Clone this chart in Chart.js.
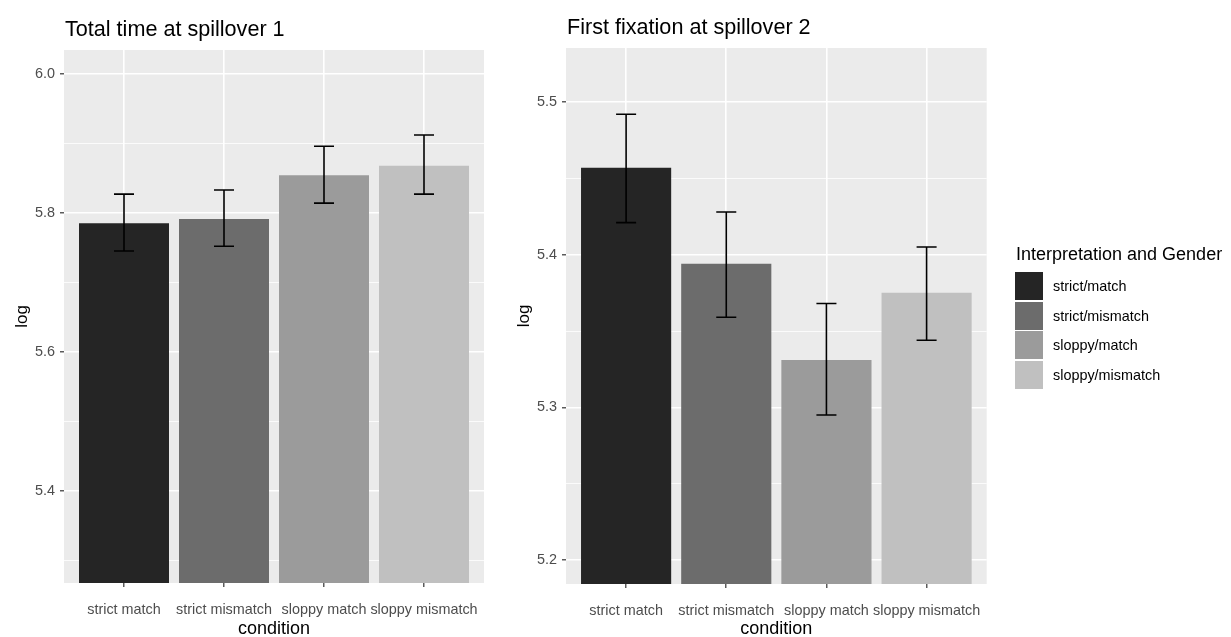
<!DOCTYPE html>
<html>
<head>
<meta charset="utf-8">
<script src="https://cdn.jsdelivr.net/npm/chart.js@4.4.1/dist/chart.umd.min.js"></script>
<style>
  body { margin: 0; background: #fff; font-family: "Liberation Sans", Arial, sans-serif; }
  #wrap { position: relative; width: 1231px; height: 637px; overflow: hidden; }
  canvas { position: absolute; top: 0; }
  #legend { position: absolute; left: 1015px; top: 0; width: 216px; height: 637px; }
  #legend .lt { position: absolute; left: 1px; top: 245px; font-size: 18px; line-height: 18px; white-space: nowrap; color: #000; }
  #legend .item { position: absolute; left: 0; height: 28px; white-space: nowrap; }
  #legend .key { position: absolute; left: 0; top: 0; width: 28px; height: 28px; }
  #legend .lab { position: absolute; left: 38px; top: 0; line-height: 28px; font-size: 14.4px; color: #000; }
</style>
</head>
<body>
<div id="wrap">
  <canvas id="totalTime" width="510" height="637" style="left:0"></canvas>
  <canvas id="firstFix" width="731" height="637" style="left:500px"></canvas>
  <div id="legend"></div>
</div>
<script>
// data
const conditions = ['strict match', 'strict mismatch', 'sloppy match', 'sloppy mismatch'];
const groupLabels = ['strict/match', 'strict/mismatch', 'sloppy/match', 'sloppy/mismatch'];
const barColors = ['#252525', '#6c6c6c', '#9b9b9b', '#c0c0c0'];

const totalTimeMeans = [5.785, 5.791, 5.854, 5.868];
const totalTimeLower = [5.745, 5.752, 5.814, 5.827];
const totalTimeUpper = [5.827, 5.833, 5.896, 5.912];
const totalTimeMajor = [5.4, 5.6, 5.8, 6.0];
const totalTimeMinor = [5.3, 5.5, 5.7, 5.9];

const firstFixMeans = [5.457, 5.394, 5.331, 5.375];
const firstFixLower = [5.421, 5.359, 5.295, 5.344];
const firstFixUpper = [5.492, 5.428, 5.368, 5.405];
const firstFixMajor = [5.2, 5.3, 5.4, 5.5];
const firstFixMinor = [5.25, 5.35, 5.45];

Chart.defaults.font.family = '"Liberation Sans", Arial, sans-serif';

// grey panel behind the grid
const panelBackground = {
    id: 'panelBackground',
    beforeDraw(chart) {
        const { ctx, chartArea: a } = chart;
        ctx.save();
        ctx.fillStyle = '#ebebeb';
        ctx.fillRect(a.left, a.top, a.right - a.left, a.bottom - a.top);
        ctx.restore();
    }
};

const panelTitle = {
    id: 'panelTitle',
    afterDraw(chart, args, opts) {
        const ctx = chart.ctx;
        ctx.save();
        ctx.font = '21.6px "Liberation Sans", Arial, sans-serif';
        ctx.fillStyle = '#000';
        ctx.textBaseline = 'alphabetic';
        ctx.fillText(opts.text, chart.chartArea.left + 1, opts.baseline);
        ctx.restore();
    }
};

const errorBars = {
    id: 'errorBars',
    afterDatasetsDraw(chart, args, opts) {
        const ctx = chart.ctx;
        const xs = chart.scales.x, ys = chart.scales.y;
        ctx.save();
        ctx.strokeStyle = '#000';
        ctx.lineWidth = 1.6;
        opts.lower.forEach((lo, i) => {
            const cx = xs.getPixelForValue(i + 1);
            const half = xs.getPixelForValue(i + 1.1) - cx;
            const y1 = ys.getPixelForValue(lo);
            const y2 = ys.getPixelForValue(opts.upper[i]);
            ctx.beginPath();
            ctx.moveTo(cx, y1); ctx.lineTo(cx, y2);
            ctx.moveTo(cx - half, y1); ctx.lineTo(cx + half, y1);
            ctx.moveTo(cx - half, y2); ctx.lineTo(cx + half, y2);
            ctx.stroke();
        });
        ctx.restore();
    }
};

function makePanel(id, p) {
    const isMajor = v => p.major.some(m => Math.abs(m - v) < 1e-9);
    return new Chart(document.getElementById(id), {
        type: 'bar',
        data: {
            datasets: [{
                data: p.means.map((v, i) => ({ x: i + 1, y: v })),
                backgroundColor: barColors,
                borderWidth: 0,
                categoryPercentage: 1,
                barPercentage: 0.9
            }]
        },
        options: {
            responsive: false,
            animation: false,
            layout: { padding: { top: p.top, left: 0, right: p.right, bottom: 0 } },
            plugins: {
                legend: { display: false },
                tooltip: { enabled: false },
                panelTitle: { text: p.title, baseline: p.titleBaseline },
                errorBars: { lower: p.lower, upper: p.upper }
            },
            scales: {
                x: {
                    type: 'linear',
                    min: 0.4,
                    max: 4.6,
                    offset: false,
                    afterBuildTicks: s => { s.ticks = conditions.map((c, i) => ({ value: i + 1 })); },
                    afterFit: s => { s.height = p.xHeight; },
                    border: { display: false },
                    grid: { offset: false, color: '#fff', lineWidth: 1.6, tickColor: '#333', tickLength: 4, tickWidth: 1.2 },
                    ticks: {
                        autoSkip: false, maxRotation: 0, padding: 14,
                        color: '#4d4d4d', font: { size: 14.4 },
                        callback: v => conditions[v - 1]
                    },
                    title: { display: true, text: 'condition', color: '#000', font: { size: 18, lineHeight: 0.9 }, padding: { top: 0, bottom: 0 } }
                },
                y: {
                    min: p.min,
                    max: p.max,
                    beginAtZero: false,
                    afterBuildTicks: s => { s.ticks = p.major.concat(p.minor).map(v => ({ value: v })); },
                    afterFit: s => { s.width = p.yWidth; },
                    border: { display: false },
                    grid: {
                        color: '#fff',
                        lineWidth: c => isMajor(c.tick.value) ? 1.6 : 0.8,
                        tickColor: c => isMajor(c.tick.value) ? '#333' : 'rgba(0,0,0,0)',
                        tickLength: 4,
                        tickWidth: 1.2
                    },
                    ticks: {
                        padding: 5, color: '#4d4d4d', font: { size: 14.4 },
                        callback: v => isMajor(v) ? v.toFixed(1) : ''
                    },
                    title: { display: true, text: 'log', color: '#000', font: { size: 17, lineHeight: 1 }, padding: { top: p.logPad, bottom: 0 } }
                }
            }
        },
        plugins: [panelBackground, panelTitle, errorBars]
    });
}

makePanel('totalTime', {
    title: 'Total time at spillover 1', titleBaseline: 36,
    means: totalTimeMeans, lower: totalTimeLower, upper: totalTimeUpper,
    major: totalTimeMajor, minor: totalTimeMinor,
    min: 5.267, max: 6.0345,
    top: 50, right: 26, xHeight: 54, yWidth: 64, logPad: 14
});

makePanel('firstFix', {
    title: 'First fixation at spillover 2', titleBaseline: 34,
    means: firstFixMeans, lower: firstFixLower, upper: firstFixUpper,
    major: firstFixMajor, minor: firstFixMinor,
    min: 5.1843, max: 5.5354,
    top: 48, right: 244.3, xHeight: 53, yWidth: 66, logPad: 16
});

// legend
const legend = document.getElementById('legend');
legend.innerHTML = '<div class="lt">Interpretation and Gender</div>' +
    groupLabels.map((l, i) =>
        '<div class="item" style="top:' + (272 + i * 29.7).toFixed(1) + 'px">' +
        '<span class="key" style="background:' + barColors[i] + '"></span>' +
        '<span class="lab">' + l + '</span></div>').join('');
</script>
</body>
</html>
